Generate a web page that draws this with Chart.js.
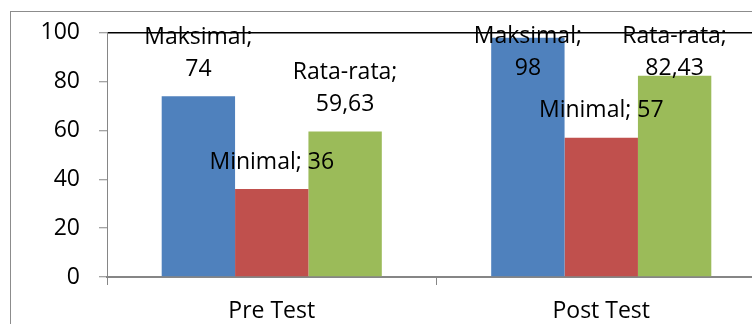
<!DOCTYPE html>
<html>
<head>
<meta charset="utf-8">
<script src="https://cdn.jsdelivr.net/npm/chart.js@4/dist/chart.umd.min.js"></script>
<style>
  html, body { margin: 0; padding: 0; background: #fff; overflow: hidden; width: 752px; height: 324px; }
  #frame { position: absolute; left: 10px; top: 11px; width: 800px; height: 400px; border: 1px solid #8c8c8c; box-sizing: border-box; }
  #c { position: absolute; left: 0; top: 0; }
</style>
</head>
<body>
<div id="frame"></div>
<canvas id="c" width="766" height="324"></canvas>
<script>
// Test categories and the three score series
const categories = ['Pre Test', 'Post Test'];
const seriesNames = ['Maksimal', 'Minimal', 'Rata-rata'];
const maksimal = [74, 98];
const minimal = [36, 57];
const rataRata = [59.63, 82.43];
const yTickValues = [0, 20, 40, 60, 80, 100];

const FONT_FAMILY = "'Open Sans', sans-serif";
const FONT_SIZE = 23;
const AXIS_GREY = '#868686';

// Value labels "Nama; nilai" above each bar, kept inside the plot area
const valueLabels = {
  id: 'valueLabels',
  afterDatasetsDraw(chart) {
    const ctx = chart.ctx;
    const areaTop = chart.chartArea.top;
    ctx.save();
    ctx.font = FONT_SIZE + 'px ' + FONT_FAMILY;
    ctx.fillStyle = '#000';
    ctx.textAlign = 'center';
    ctx.textBaseline = 'middle';
    const lineGap = 32;
    chart.data.datasets.forEach((ds, i) => {
      chart.getDatasetMeta(i).data.forEach((bar, j) => {
        const valueText = String(ds.data[j]).replace('.', ',');
        const lines = ds.wrapLabel ? [ds.label + ';', valueText] : [ds.label + '; ' + valueText];
        let last = bar.y - 27;
        let first = last - (lines.length - 1) * lineGap;
        const minFirst = areaTop + 4;
        if (first < minFirst) { last += minFirst - first; first = minFirst; }
        lines.forEach((t, k) => ctx.fillText(t, bar.x, first + k * lineGap));
      });
    });
    ctx.restore();
  }
};

new Chart(document.getElementById('c'), {
  type: 'bar',
  data: {
    labels: categories,
    datasets: [
      { label: seriesNames[0], data: maksimal, backgroundColor: '#4F81BD', wrapLabel: true },
      { label: seriesNames[1], data: minimal, backgroundColor: '#C0504D', wrapLabel: false },
      { label: seriesNames[2], data: rataRata, backgroundColor: '#9BBB59', wrapLabel: true }
    ]
  },
  options: {
    responsive: false,
    animation: false,
    devicePixelRatio: 1,
    layout: { padding: { top: 29, left: 0, right: 0, bottom: 0 } },
    datasets: { bar: { categoryPercentage: 0.668, barPercentage: 1, borderWidth: 0 } },
    plugins: {
      legend: { display: false },
      tooltip: { enabled: false }
    },
    scales: {
      x: {
        offset: true,
        grid: { offset: true, drawOnChartArea: false, color: 'transparent', tickColor: AXIS_GREY, tickLength: 8, tickWidth: 1 },
        border: { display: true, color: AXIS_GREY, width: 2 },
        ticks: { color: '#000', font: { family: FONT_FAMILY, size: FONT_SIZE }, padding: 13, maxRotation: 0 },
        afterFit(scale) { scale.height = 47; }
      },
      y: {
        min: 0,
        max: 100,
        afterBuildTicks(scale) { scale.ticks = yTickValues.map(v => ({ value: v })); },
        grid: {
          color: c => (c.tick && c.tick.value === 100) ? '#000' : 'transparent',
          lineWidth: 1.5,
          tickColor: AXIS_GREY,
          tickLength: 8,
          tickWidth: 1
        },
        border: { display: true, color: AXIS_GREY, width: 1 },
        ticks: { color: '#000', font: { family: FONT_FAMILY, size: FONT_SIZE }, padding: 19 },
        afterFit(scale) { scale.width = 107; }
      }
    }
  },
  plugins: [valueLabels]
});
</script>
</body>
</html>
